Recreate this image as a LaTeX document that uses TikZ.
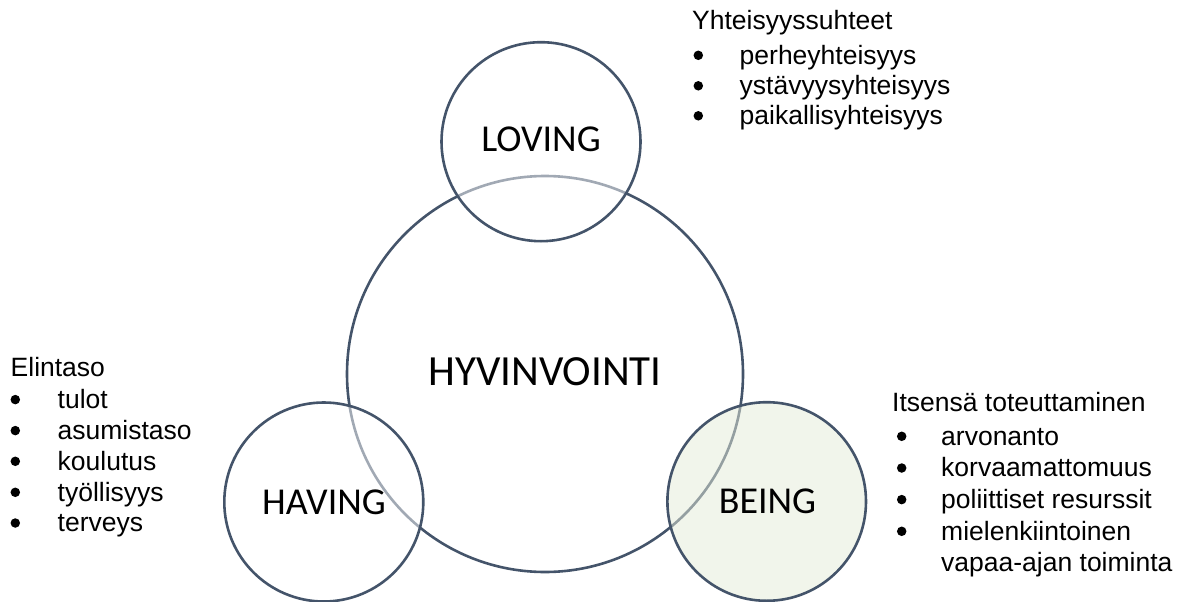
\documentclass[tikz,border=0pt]{standalone}
\usepackage{fontspec}
\setmainfont{Liberation Sans}
\newfontfamily\calfont{Carlito}
\definecolor{edge}{HTML}{44546A}
\definecolor{beingfill}{HTML}{E4EBD8}
\begin{document}
\begin{tikzpicture}[x=1pt,y=-1pt,
  ring/.style={circle, draw=edge, line width=2.6pt, inner sep=0pt, minimum size=#1},
  smallring/.style={ring=#1, fill=white, fill opacity=0.5, draw opacity=1},
  circlabel/.style={inner sep=0pt, font=\calfont\fontsize{38}{44}\selectfont},
  listtext/.style={anchor=base west, inner sep=0pt, font=\fontsize{26.5}{31}\selectfont},
  bul/.style={circle, fill=black, inner sep=0pt, minimum size=9.5pt, yshift=8.7pt}
]
\useasboundingbox (0,0) rectangle (1183,602);

% central circle
\node[ring=396] (hyv) at (545,374) {};
% small circles
\node[smallring=199] (lov) at (541,141.7) {};
\node[smallring=199] (hav) at (323.8,502) {};
\node[ring=198.6, fill=beingfill, fill opacity=0.5, draw opacity=1] (bei) at (766.7,501.5) {};

% circle labels
\node[circlabel, font=\calfont\fontsize{43}{50}\selectfont] (hyvt) at (545,372) {HYVINVOINTI};
\node[circlabel] (lovt) at (541,139) {LOVING};
\node[circlabel] (havt) at (324,502) {HAVING};
\node[circlabel] (beit) at (767.5,501) {BEING};

% top list
\node[listtext] (th) at (692,30) {Yhteisyyssuhteet};
\node[bul] (tb1) at (698.3,64) {};
\node[listtext] (t1) at (739.5,64) {perheyhteisyys};
\node[bul] (tb2) at (698.3,94.5) {};
\node[listtext] (t2) at (739.5,94.5) {ystävyysyhteisyys};
\node[bul] (tb3) at (698.3,124.5) {};
\node[listtext] (t3) at (739.5,124.5) {paikallisyhteisyys};

% left list
\node[listtext] (lh) at (10.5,376) {Elintaso};
\node[bul] (lb1) at (15.3,408.3) {};
\node[listtext] (l1) at (57.5,408.3) {tulot};
\node[bul] (lb2) at (15.3,439.3) {};
\node[listtext] (l2) at (57.5,439.3) {asumistaso};
\node[bul] (lb3) at (15.3,470) {};
\node[listtext] (l3) at (57.5,470) {koulutus};
\node[bul] (lb4) at (15.3,501) {};
\node[listtext] (l4) at (57.5,501) {työllisyys};
\node[bul] (lb5) at (15.3,531.7) {};
\node[listtext] (l5) at (57.5,531.7) {terveys};

% right list
\node[listtext] (rh) at (892,411.7) {Itsensä toteuttaminen};
\node[bul] (rb1) at (901.7,445) {};
\node[listtext] (r1) at (941,445) {arvonanto};
\node[bul] (rb2) at (901.7,476.7) {};
\node[listtext] (r2) at (941,476.7) {korvaamattomuus};
\node[bul] (rb3) at (901.7,508.3) {};
\node[listtext] (r3) at (941,508.3) {poliittiset resurssit};
\node[bul] (rb4) at (901.7,540) {};
\node[listtext] (r4) at (941,540) {mielenkiintoinen};
\node[listtext] (r5) at (941,571) {vapaa-ajan toiminta};
\end{tikzpicture}
\end{document}
